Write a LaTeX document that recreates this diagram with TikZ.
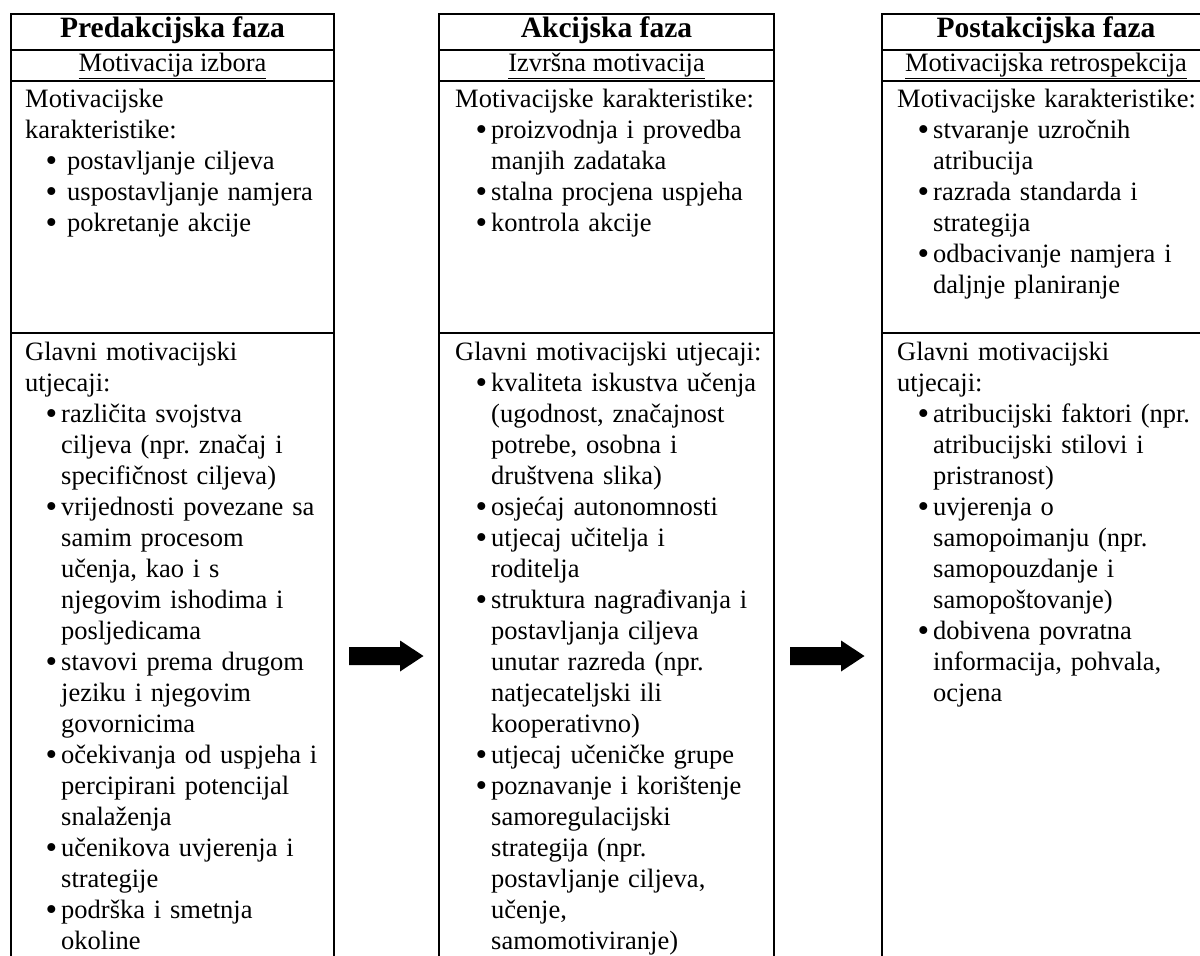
\documentclass[tikz,border=0pt]{standalone}
\usepackage{fontspec}
\setmainfont{Liberation Serif}
\frenchspacing
\newcommand\bdot{\raisebox{-0.09em}{\scalebox{1.25}{\textbullet}}}
\newcommand\bl[2][4pt]{\hspace*{22pt}\makebox[10pt][r]{\bdot}\hspace*{#1}#2}
\newcommand\cl[1]{\hspace*{36pt}#1}
\tikzset{
  txt/.style={anchor=base west, inner sep=0pt, text width=420pt, align=left, font=\fontsize{26.5}{31}\selectfont},
  ttl/.style={anchor=base, inner sep=0pt, font=\fontsize{29.5}{31}\selectfont\bfseries},
  sub/.style={anchor=base, inner sep=0pt, font=\fontsize{26.5}{31}\selectfont},
  frame/.style={line width=2.2pt},
  blockarrow/.style={fill=black, draw=none}
}
\begin{document}
\begin{tikzpicture}[x=1pt, y=-1pt]
\clip (0,0) rectangle (1200,956);
\fill[white] (0,0) rectangle (1200,956);
% frames
\foreach \l/\r in {11/334, 439/774, 882/1212}{
  \draw[frame] (\l,1000) -- (\l,14) -- (\r,14) -- (\r,1000);
  \draw[frame] (\l,50) -- (\r,50);
  \draw[frame] (\l,81) -- (\r,81);
  \draw[frame] (\l,333) -- (\r,333);
}
% titles
\node[ttl] (t1) at (172.5,37) {Predakcijska faza};
\node[ttl] (t2) at (606.5,37) {Akcijska faza};
\node[ttl] (t3) at (1046,37) {Postakcijska faza};
\node[sub] (s1) at (172.5,71) {\underline{Motivacija izbora}};
\node[sub] (s2) at (606.5,71) {\underline{Izvršna motivacija}};
\node[sub] (s3) at (1046,71) {\underline{Motivacijska retrospekcija}};
% column 1
\node[txt] (c1a) at (25,107) {Motivacijske\\karakteristike:\\
\bl[10pt]{postavljanje ciljeva}\\
\bl[10pt]{uspostavljanje namjera}\\
\bl[10pt]{pokretanje akcije}};
\node[txt] (c1b) at (25,360) {Glavni motivacijski\\utjecaji:\\
\bl{različita svojstva}\\
\cl{ciljeva (npr. značaj i}\\
\cl{specifičnost ciljeva)}\\
\bl{vrijednosti povezane sa}\\
\cl{samim procesom}\\
\cl{učenja, kao i s}\\
\cl{njegovim ishodima i}\\
\cl{posljedicama}\\
\bl{stavovi prema drugom}\\
\cl{jeziku i njegovim}\\
\cl{govornicima}\\
\bl{očekivanja od uspjeha i}\\
\cl{percipirani potencijal}\\
\cl{snalaženja}\\
\bl{učenikova uvjerenja i}\\
\cl{strategije}\\
\bl{podrška i smetnja}\\
\cl{okoline}};
% column 2
\node[txt] (c2a) at (455,107) {Motivacijske karakteristike:\\
\bl{proizvodnja i provedba}\\
\cl{manjih zadataka}\\
\bl{stalna procjena uspjeha}\\
\bl{kontrola akcije}};
\node[txt] (c2b) at (455,360) {Glavni motivacijski utjecaji:\\
\bl{kvaliteta iskustva učenja}\\
\cl{(ugodnost, značajnost}\\
\cl{potrebe, osobna i}\\
\cl{društvena slika)}\\
\bl{osjećaj autonomnosti}\\
\bl{utjecaj učitelja i}\\
\cl{roditelja}\\
\bl{struktura nagrađivanja i}\\
\cl{postavljanja ciljeva}\\
\cl{unutar razreda (npr.}\\
\cl{natjecateljski ili}\\
\cl{kooperativno)}\\
\bl{utjecaj učeničke grupe}\\
\bl{poznavanje i korištenje}\\
\cl{samoregulacijski}\\
\cl{strategija (npr.}\\
\cl{postavljanje ciljeva,}\\
\cl{učenje,}\\
\cl{samomotiviranje)}};
% column 3
\node[txt] (c3a) at (897,107) {Motivacijske karakteristike:\\
\bl{stvaranje uzročnih}\\
\cl{atribucija}\\
\bl{razrada standarda i}\\
\cl{strategija}\\
\bl{odbacivanje namjera i}\\
\cl{daljnje planiranje}};
\node[txt] (c3b) at (897,360) {Glavni motivacijski\\utjecaji:\\
\bl{atribucijski faktori (npr.}\\
\cl{atribucijski stilovi i}\\
\cl{pristranost)}\\
\bl{uvjerenja o}\\
\cl{samopoimanju (npr.}\\
\cl{samopouzdanje i}\\
\cl{samopoštovanje)}\\
\bl{dobivena povratna}\\
\cl{informacija, pohvala,}\\
\cl{ocjena}};
% arrows
\coordinate (a1) at (349,656);
\coordinate (a2) at (790,656);
\foreach \a in {a1,a2}{
  \fill[blockarrow] (\a) ++(0,-9) -- ++(51,0) -- ++(0,-6.5) -- ++(23.5,15.5) -- ++(-23.5,15.5) -- ++(0,-6.5) -- ++(-51,0) -- cycle;
}
\end{tikzpicture}
\end{document}
